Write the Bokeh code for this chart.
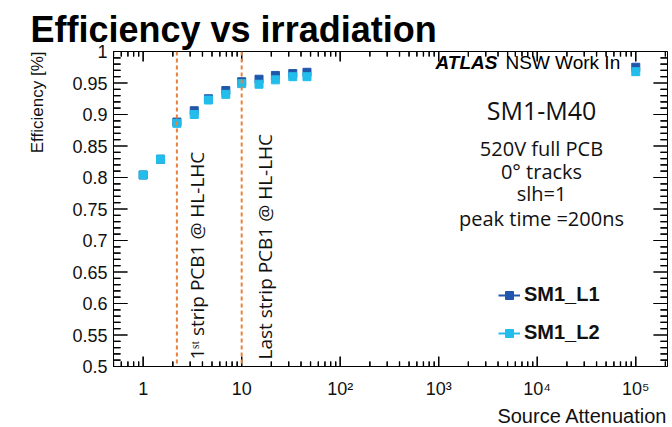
import math
from bokeh.plotting import figure
from bokeh.models import (Span, Label, Legend, LegendItem, FixedTicker, Title,
                          CustomJSTickFormatter, Range1d, ColumnDataSource)
from bokeh.embed import file_html
from bokeh.resources import INLINE

# ---------------- data ----------------
attenuation = [1, 1.5, 2.2, 3.3, 4.6, 6.9, 10, 15, 22, 33, 46, 100000]
eff_L1 = [0.804, 0.829, 0.888, 0.906, 0.925, 0.938, 0.952, 0.956, 0.962, 0.965, 0.967, 0.975]
eff_L2 = [0.804, 0.829, 0.886, 0.900, 0.923, 0.932, 0.949, 0.948, 0.955, 0.960, 0.960, 0.968]
series_names = ["SM1_L1", "SM1_L2"]

pcb_lines = [2.2, 10]
pcb_labels = ["1\u02e2\u1d57 strip PCB1 @ HL-LHC", "Last strip PCB1 @ HL-LHC"]

x_major = [1, 10, 100, 1000, 10000, 100000]
x_major_labels = ["1", "10", "10\u00b2", "10\u00b3", "10\u2074", "10\u2075"]
y_major = [0.5, 0.55, 0.6, 0.65, 0.7, 0.75, 0.8, 0.85, 0.9, 0.95, 1.0]

info_lines = ["SM1-M40", "520V full PCB", "0\u00b0 tracks", "slh=1", "peak time =200ns"]

# ---------------- style ----------------
C1 = "#2157aa"
C2 = "#22bdea"
ORANGE = "#e8823e"
SANS = "Liberation Sans"
OPEN = "Open Sans"

X0, X1 = 0.5, 2.1e5
Y0, Y1 = 0.5, 1.0
FW, FH = 554, 319  # frame size in px

x_minor = []
for d in [0.1, 1, 10, 100, 1000, 10000, 100000]:
    for k in range(2, 10):
        v = d * k
        if X0 <= v <= X1:
            x_minor.append(v)
y_minor = [round(0.5 + 0.01 * i, 2) for i in range(51)]

p = figure(width=672, height=427, x_axis_type="log",
           x_range=Range1d(X0, X1), y_range=Range1d(Y0, Y1),
           output_backend="svg", toolbar_location=None,
           min_border_left=113, min_border_right=5, min_border_top=51, min_border_bottom=57)
p.background_fill_color = "white"
p.border_fill_color = "white"
p.outline_line_color = "black"
p.outline_line_width = 1
p.grid.visible = False

xmap = "{" + ",".join('"%s":"%s"' % (str(int(v)), l) for v, l in zip(x_major, x_major_labels)) + "}"
xfmt = CustomJSTickFormatter(code="const m = %s; const k = String(Math.round(tick)); return (k in m) ? m[k] : '';" % xmap)
yfmt = CustomJSTickFormatter(code="return String(Math.round(tick*100)/100);")

xa = p.xaxis[0]
xa.ticker = FixedTicker(ticks=x_major)
xa.formatter = xfmt
ya = p.yaxis[0]
ya.ticker = FixedTicker(ticks=y_major)
ya.formatter = yfmt
for ax in (xa, ya):
    ax.axis_line_color = "black"
    ax.major_tick_line_color = None
    ax.minor_tick_line_color = None
    ax.major_tick_in = 0
    ax.major_tick_out = 0
    ax.minor_tick_in = 0
    ax.minor_tick_out = 0
    ax.major_label_text_font = SANS
    ax.major_label_text_font_size = "18px"
    ax.major_label_text_color = "#111111"
xa.major_label_standoff = 12
ya.major_label_standoff = 6

# inside ticks (lengths converted from pixels to data units)
ypx = (Y1 - Y0) / FH
xdec = math.log10(X1 / X0) / FW
def xs(px):
    return 10 ** (xdec * px)

tx0, tx1, ty0, ty1 = [], [], [], []
dx, dy, dsz, dang = [], [], [], []
for v, L in [(v, 10) for v in x_major] + [(v, 5) for v in x_minor]:
    tx0 += [v, v]; tx1 += [v, v]
    ty0 += [Y0, Y1]; ty1 += [Y0 + L * ypx, Y1 - L * ypx]
    dx += [v, v]; dy += [Y0, Y1]; dsz += [2 * L, 2 * L]; dang += [math.pi / 2, math.pi / 2]
for v in y_minor:
    L = 14 if any(abs(v - mj) < 1e-9 for mj in y_major) else 7
    tx0 += [X0, X1]; tx1 += [X0 * xs(L), X1 / xs(L)]
    ty0 += [v, v]; ty1 += [v, v]
    dx += [X0, X1]; dy += [v, v]; dsz += [2 * L, 2 * L]; dang += [0.0, 0.0]
tick_src = ColumnDataSource(dict(x0=[float(a) for a in tx0], y0=[float(a) for a in ty0],
                                 x1=[float(a) for a in tx1], y1=[float(a) for a in ty1]))
p.segment(x0="x0", y0="y0", x1="x1", y1="y1", source=tick_src,
          line_color="black", line_width=1.2)
dash_src = ColumnDataSource(dict(x=[float(a) for a in dx], y=[float(a) for a in dy],
                                 size=[float(a) for a in dsz], angle=dang))
p.scatter(x="x", y="y", size="size", angle="angle", marker="dash", source=dash_src,
          line_color="black", line_width=1.2)

# vertical PCB lines and labels
for loc, txt, off in zip(pcb_lines, pcb_labels, [20, 23]):
    p.add_layout(Span(location=loc, dimension="height", line_color=ORANGE,
                      line_dash="4 3", line_width=2))
    p.add_layout(Label(x=loc, y=7, x_units="data", y_units="screen", x_offset=off,
                       text=txt, angle=math.pi / 2, text_align="left",
                       text_baseline="alphabetic", text_font=OPEN,
                       text_font_size="19px", text_color="#111111"))

# data
nan = float("nan")
l1 = p.line(x=[nan, nan], y=[nan, nan], line_color=C1, line_width=2)
l2 = p.line(x=[nan, nan], y=[nan, nan], line_color=C2, line_width=2)
s1 = p.scatter(attenuation, eff_L1, marker="square", size=8, fill_color=C1, line_color=C1)
s2 = p.scatter(attenuation, eff_L2, marker="square", size=8, fill_color=C2, line_color=C2)

legend = Legend(items=[LegendItem(label=series_names[0], renderers=[l1, s1]),
                       LegendItem(label=series_names[1], renderers=[l2, s2])],
                location=(385, 22), border_line_color=None, background_fill_alpha=0,
                label_text_font=SANS, label_text_font_style="bold",
                label_text_font_size="20px", label_text_color="#111111",
                glyph_width=22, glyph_height=20, label_height=20, spacing=15,
                padding=0, margin=0, label_standoff=4)
p.add_layout(legend)

# info text block
info_y = [257, 218, 195, 173, 148]
info_size = ["25px", "20px", "20px", "20px", "20px"]
for t, yy, fs in zip(info_lines, info_y, info_size):
    p.add_layout(Label(x=428, y=yy, x_units="screen", y_units="screen", text=t,
                       text_align="center", text_baseline="middle", text_font=OPEN,
                       text_font_size=fs, text_color="#111111"))

# main title
p.title.text = "Efficiency vs irradiation"
p.title.align = "left"
p.title.offset = -83
p.title.standoff = 4
p.title.text_font = SANS
p.title.text_font_style = "bold"
p.title.text_font_size = "36px"
p.title.text_color = "black"

# axis titles
p.add_layout(Title(text="Efficiency [%]", align="right", standoff=46, text_font=SANS,
                   text_font_style="normal", text_font_size="17px", text_color="#111111"), "left")
p.add_layout(Title(text="Source Attenuation", align="right", standoff=2, text_font=SANS,
                   text_font_style="normal", text_font_size="20px", text_color="#111111"), "below")

# ATLAS tag (kept just inside the top of the frame so that it is fully visible)
p.add_layout(Label(x=322, y=304, x_units="screen", y_units="screen", text="ATLAS",
                   text_font=SANS, text_font_style="bold italic", text_font_size="19px",
                   text_color="black", text_baseline="alphabetic"))
p.add_layout(Label(x=392, y=304, x_units="screen", y_units="screen", text="NSW Work In",
                   text_font=SANS, text_font_size="19px", text_color="black",
                   text_baseline="alphabetic"))

open("out.html", "w").write(file_html(p, INLINE))
